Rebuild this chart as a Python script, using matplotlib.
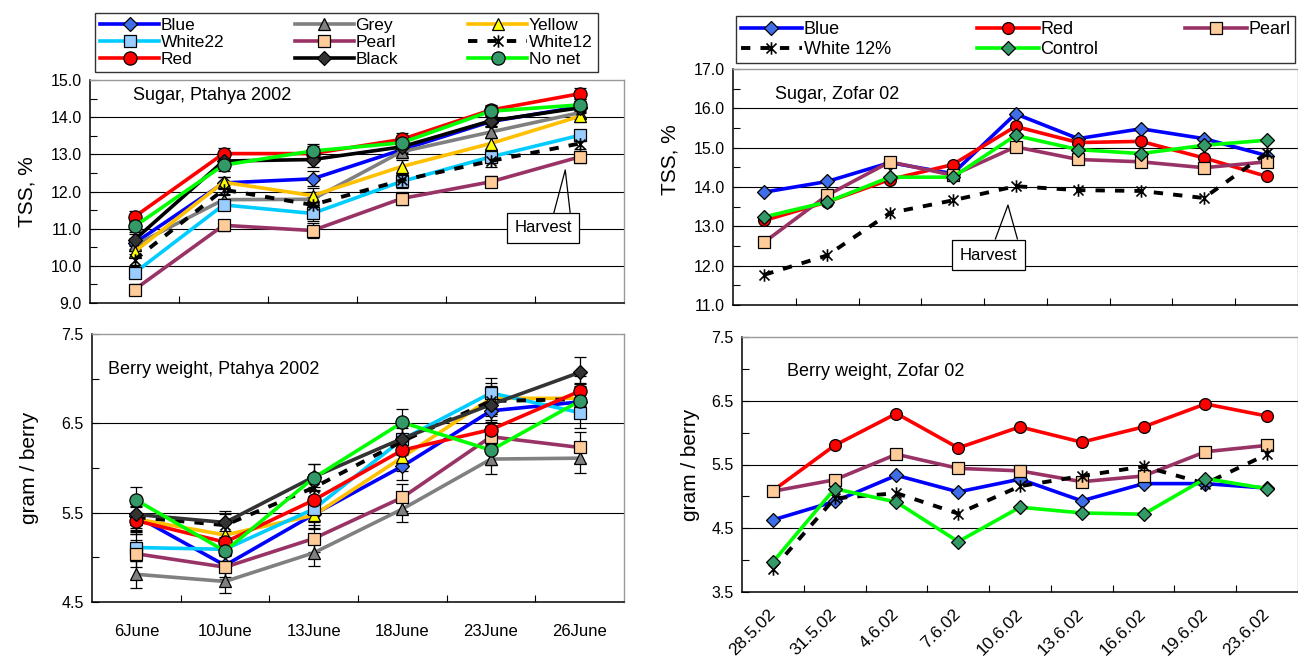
import matplotlib
matplotlib.use('Agg')
import numpy as np
import matplotlib.pyplot as plt
from matplotlib.ticker import FixedLocator, FormatStrFormatter
from matplotlib.path import Path

plt.rcParams['font.family'] = ['Liberation Sans', 'DejaVu Sans']

# ---------------- data: Ptahya 2002 ----------------
dates_left = ['6June', '10June', '13June', '18June', '23June', '26June']

tss_blue    = [10.61, 12.23, 12.34, 13.12, 13.88, 14.28]
tss_grey    = [10.55, 11.78, 11.79, 13.07, 13.60, 14.12]
tss_yellow  = [10.38, 12.25, 11.89, 12.67, 13.29, 14.02]
tss_white22 = [9.81, 11.64, 11.41, 12.27, 12.93, 13.51]
tss_pearl   = [9.36, 11.09, 10.95, 11.81, 12.26, 12.93]
tss_white12 = [10.16, 12.05, 11.64, 12.30, 12.82, 13.29]
tss_red     = [11.32, 13.02, 13.02, 13.40, 14.19, 14.63]
tss_black   = [10.70, 12.82, 12.86, 13.20, 13.90, 14.25]
tss_nonet   = [11.06, 12.71, 13.09, 13.31, 14.16, 14.33]
tss_err     = [0.15, 0.15, 0.20, 0.17, 0.15, 0.15]

bw_blue    = [5.46, 4.91, 5.48, 6.02, 6.64, 6.74]
bw_grey    = [4.81, 4.73, 5.05, 5.54, 6.10, 6.11]
bw_yellow  = [5.43, 5.25, 5.47, 6.12, 6.78, 6.78]
bw_white22 = [5.11, 5.09, 5.54, 6.32, 6.84, 6.62]
bw_pearl   = [5.04, 4.89, 5.21, 5.67, 6.35, 6.23]
bw_white12 = [5.45, 5.36, 5.78, 6.30, 6.75, 6.77]
bw_red     = [5.41, 5.17, 5.64, 6.20, 6.43, 6.86]
bw_black   = [5.48, 5.39, 5.90, 6.33, 6.71, 7.07]
bw_nonet   = [5.64, 5.07, 5.89, 6.51, 6.20, 6.75]
bw_err     = [0.15, 0.13, 0.15, 0.15, 0.17, 0.17]

# ---------------- data: Zofar 02 ----------------
dates_right = ['28.5.02', '31.5.02', '4.6.02', '7.6.02', '10.6.02',
               '13.6.02', '16.6.02', '19.6.02', '23.6.02']

z_tss_blue    = [13.87, 14.14, 14.62, 14.34, 15.86, 15.23, 15.48, 15.23, 14.80]
z_tss_red     = [13.15, 13.62, 14.19, 14.57, 15.54, 15.13, 15.16, 14.74, 14.27]
z_tss_pearl   = [12.60, 13.79, 14.64, 14.30, 15.02, 14.70, 14.64, 14.49, 14.64]
z_tss_white12 = [11.77, 12.26, 13.34, 13.66, 14.02, 13.92, 13.90, 13.72, 14.86]
z_tss_control = [13.24, 13.62, 14.25, 14.25, 15.31, 14.95, 14.85, 15.06, 15.19]

z_bw_blue    = [4.63, 4.92, 5.33, 5.07, 5.27, 4.93, 5.20, 5.20, 5.13]
z_bw_red     = [5.09, 5.80, 6.30, 5.76, 6.09, 5.85, 6.09, 6.45, 6.26]
z_bw_pearl   = [5.08, 5.26, 5.66, 5.44, 5.40, 5.23, 5.32, 5.70, 5.80]
z_bw_white12 = [3.86, 4.97, 5.05, 4.73, 5.16, 5.32, 5.47, 5.20, 5.66]
z_bw_control = [3.97, 5.12, 4.91, 4.29, 4.83, 4.74, 4.72, 5.28, 5.12]

# ---------------- styles ----------------
# Excel-like "star" marker: an X crossed by a vertical bar
STAR = Path([(-1, -1), (1, 1), (-1, 1), (1, -1), (0, -1.25), (0, 1.25)],
            [Path.MOVETO, Path.LINETO, Path.MOVETO, Path.LINETO, Path.MOVETO, Path.LINETO])

left_styles = {
    'Blue':    dict(color='#0000FF', marker='D', mfc='#3F6FE8', ms=7),
    'Grey':    dict(color='#808080', marker='^', mfc='#808080', ms=9),
    'Yellow':  dict(color='#FFC000', marker='^', mfc='#FFFF00', ms=9),
    'White22': dict(color='#00CCFF', marker='s', mfc='#99CCFF', ms=8.5),
    'Pearl':   dict(color='#993366', marker='s', mfc='#FFCC99', ms=8.5),
    'White12': dict(color='#000000', marker=STAR, mfc='#000000', ms=9, dashed=True),
    'Red':     dict(color='#FF0000', marker='o', mfc='#FF0000', ms=9.5),
    'Black':   dict(color='#000000', marker='D', mfc='#333333', ms=7),
    'No net':  dict(color='#00FF00', marker='o', mfc='#339966', ms=9.5),
}
right_styles = {
    'Blue':       dict(color='#0000FF', marker='D', mfc='#3F6FE8', ms=7),
    'Red':        dict(color='#FF0000', marker='o', mfc='#FF0000', ms=8.5),
    'Pearl':      dict(color='#993366', marker='s', mfc='#FFCC99', ms=8.5),
    'White 12%':  dict(color='#000000', marker=STAR, mfc='#000000', ms=9, dashed=True),
    'Control':    dict(color='#00FF00', marker='D', mfc='#339966', ms=7),
}

W, H = 1298, 661
fig = plt.figure(figsize=(W / 100, H / 100), dpi=100)


def px_axes(l, t, r, b):
    return fig.add_axes([l / W, 1 - b / H, (r - l) / W, (b - t) / H])


def plot_series(ax, name, style, vals, err=None, black_override=None):
    x = list(range(len(vals)))
    color = style['color'] if black_override is None else black_override
    kw = dict(color=color, lw=2.6, marker=style['marker'], ms=style['ms'],
              mfc=style['mfc'], mec='#000000', mew=0.9, label=name, zorder=3)
    if style.get('dashed'):
        kw.update(ls=(0, (2.4, 2.6)), mew=1.2, lw=2.8)
    if err is not None:
        ax.errorbar(x, vals, yerr=err, fmt='none', ecolor='black', elinewidth=0.9,
                    capsize=4, capthick=0.9, zorder=2)
    line, = ax.plot(x, vals, **kw)
    if style.get('dashed'):
        line.set_dash_capstyle('butt')
    return line


def style_axes(ax, n, ylo, yhi, major, minor, grid_vals, xlabels=None, rotate=False):
    ax.set_xlim(-0.5, n - 0.5)
    ax.set_ylim(ylo, yhi)
    ax.yaxis.set_major_locator(FixedLocator(np.arange(ylo, yhi + 1e-6, major)))
    ax.yaxis.set_minor_locator(FixedLocator(np.arange(ylo, yhi + 1e-6, minor)))
    ax.yaxis.set_major_formatter(FormatStrFormatter('%.1f'))
    ax.tick_params(axis='y', which='both', direction='in', length=5, width=0.8,
                   labelsize=11.5, pad=6)
    ax.xaxis.set_major_locator(FixedLocator(list(range(n))))
    ax.xaxis.set_minor_locator(FixedLocator([i + 0.5 for i in range(n - 1)]))
    ax.tick_params(axis='x', which='minor', direction='in', length=5, width=0.8)
    ax.tick_params(axis='x', which='major', length=0)
    if xlabels is None:
        ax.set_xticklabels([])
    else:
        if rotate:
            ax.set_xticklabels(xlabels, rotation=45, ha='right', va='center',
                               rotation_mode='anchor', fontsize=12.5)
            ax.tick_params(axis='x', which='major', pad=14)
        else:
            ax.set_xticklabels(xlabels, fontsize=12)
            ax.tick_params(axis='x', which='major', pad=16)
    for g in grid_vals:
        ax.axhline(g, color='black', lw=0.8, zorder=1)
    for s in ('top', 'right'):
        ax.spines[s].set_color('#999999')
        ax.spines[s].set_linewidth(1.0)
    for s in ('left', 'bottom'):
        ax.spines[s].set_color('black')
        ax.spines[s].set_linewidth(1.1)


def harvest(ax, apex, base_l, base_r, box_xy):
    ax.plot([base_l[0], apex[0], base_r[0]], [base_l[1], apex[1], base_r[1]],
            color='black', lw=0.9, zorder=5)
    ax.text(box_xy[0], box_xy[1], 'Harvest', fontsize=12, ha='center', va='center',
            zorder=6, bbox=dict(boxstyle='square,pad=0.45', fc='white', ec='black', lw=0.9))


# ---------------- top-left: Sugar, Ptahya ----------------
ax1 = px_axes(90, 80, 624, 303)
left_tss = {'Blue': tss_blue, 'Grey': tss_grey, 'Yellow': tss_yellow,
            'White22': tss_white22, 'Pearl': tss_pearl, 'White12': tss_white12,
            'Red': tss_red, 'Black': tss_black, 'No net': tss_nonet}
handles = {}
for name, vals in left_tss.items():
    handles[name] = plot_series(ax1, name, left_styles[name], vals, tss_err)
style_axes(ax1, len(dates_left), 9.0, 15.0, 1.0, 0.5, [10, 11, 12, 13, 14])
ax1.set_ylabel('TSS, %', fontsize=15)
ax1.yaxis.set_label_coords(-0.10, 0.5)
ax1.text(0.08, 0.93, 'Sugar, Ptahya 2002', transform=ax1.transAxes, fontsize=13,
         ha='left', va='center')
harvest(ax1, (4.84, 12.58), (4.70, 11.32), (4.90, 11.32), (4.59, 11.02))

order = ['Blue', 'White22', 'Red', 'Grey', 'Pearl', 'Black', 'Yellow', 'White12', 'No net']
fig.legend([handles[k] for k in order], order, ncol=3, mode='expand',
           bbox_to_anchor=(95 / W, 1 - 72 / H, 503 / W, 62 / H), loc='lower left',
           fontsize=12.5, frameon=True, fancybox=False, edgecolor='black',
           handlelength=3.4, handletextpad=0.1, labelspacing=0.1,
           borderaxespad=0, borderpad=0.3, columnspacing=1.0).get_frame().set_linewidth(1.0)

# ---------------- bottom-left: Berry weight, Ptahya ----------------
ax2 = px_axes(92, 334, 624, 602)
left_bw = {'Blue': bw_blue, 'Grey': bw_grey, 'Yellow': bw_yellow,
           'White22': bw_white22, 'Pearl': bw_pearl, 'White12': bw_white12,
           'Red': bw_red, 'Black': bw_black, 'No net': bw_nonet}
for name, vals in left_bw.items():
    plot_series(ax2, name, left_styles[name], vals, bw_err,
                black_override='#333333' if name == 'Black' else None)
style_axes(ax2, len(dates_left), 4.5, 7.5, 1.0, 0.5, [5.5, 6.5], xlabels=dates_left)
ax2.set_ylabel('gram / berry', fontsize=15)
ax2.yaxis.set_label_coords(-0.10, 0.5)
ax2.text(0.03, 0.866, 'Berry weight, Ptahya 2002', transform=ax2.transAxes,
         fontsize=13, ha='left', va='center')

# ---------------- top-right: Sugar, Zofar ----------------
ax3 = px_axes(733, 69, 1298, 305)
right_tss = {'Blue': z_tss_blue, 'Red': z_tss_red, 'Pearl': z_tss_pearl,
             'White 12%': z_tss_white12, 'Control': z_tss_control}
rh = {}
for name, vals in right_tss.items():
    rh[name] = plot_series(ax3, name, right_styles[name], vals)
style_axes(ax3, len(dates_right), 11.0, 17.0, 1.0, 0.5, [12, 13, 14, 15, 16])
ax3.set_ylabel('TSS, %', fontsize=15)
ax3.yaxis.set_label_coords(-0.094, 0.614)
ax3.text(0.075, 0.89, 'Sugar, Zofar 02', transform=ax3.transAxes, fontsize=13,
         ha='left', va='center')
harvest(ax3, (3.88, 13.54), (3.68, 12.68), (4.03, 12.68), (3.57, 12.27))

rorder = ['Blue', 'White 12%', 'Red', 'Control', 'Pearl']
fig.legend([rh[k] for k in rorder], rorder, ncol=3, mode='expand',
           bbox_to_anchor=(736 / W, 1 - 63 / H, 559 / W, 52 / H), loc='lower left',
           fontsize=13, frameon=True, fancybox=False, edgecolor='black',
           handlelength=3.4, handletextpad=0.1, labelspacing=0.2,
           borderaxespad=0, borderpad=0.25, columnspacing=1.0).get_frame().set_linewidth(1.0)

# ---------------- bottom-right: Berry weight, Zofar ----------------
ax4 = px_axes(742, 337, 1298, 592)
right_bw = {'Blue': z_bw_blue, 'Red': z_bw_red, 'Pearl': z_bw_pearl,
            'White 12%': z_bw_white12, 'Control': z_bw_control}
for name, vals in right_bw.items():
    plot_series(ax4, name, right_styles[name], vals)
style_axes(ax4, len(dates_right), 3.5, 7.5, 1.0, 0.5, [4.5, 5.5, 6.5],
           xlabels=dates_right, rotate=True)
ax4.set_ylabel('gram / berry', fontsize=15)
ax4.yaxis.set_label_coords(-0.076, 0.5)
ax4.text(0.081, 0.863, 'Berry weight, Zofar 02', transform=ax4.transAxes,
         fontsize=13, ha='left', va='center')

fig.savefig('out.png', dpi=100)
